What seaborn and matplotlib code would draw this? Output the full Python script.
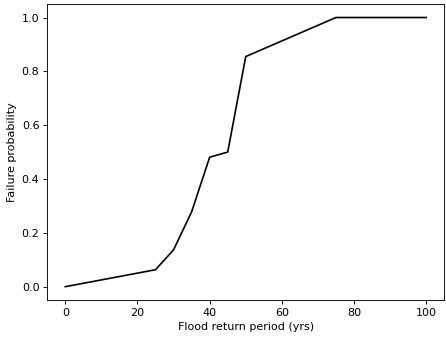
import matplotlib
matplotlib.use("Agg")
import matplotlib.pyplot as plt
import seaborn as sns
import pandas as pd

# Flood return period (years) vs. failure probability
return_period = [0, 25, 30, 35, 40, 45, 50, 75, 100]
failure_prob = [0.0, 0.063, 0.137, 0.278, 0.481, 0.5, 0.855, 1.0, 1.0]

df = pd.DataFrame({"period": return_period, "prob": failure_prob})

fig = plt.figure(figsize=(446 / 80, 338 / 80), dpi=80)
ax = fig.add_axes([0.106, 0.112, 0.89, 0.876])
sns.lineplot(data=df, x="period", y="prob", color="black", ax=ax,
             estimator=None, sort=False)
ax.set_xlabel("Flood return period (yrs)")
ax.set_ylabel("Failure probability")
ax.set_xticks([0, 20, 40, 60, 80, 100])
ax.set_yticks([0.0, 0.2, 0.4, 0.6, 0.8, 1.0])

fig.savefig("out.png", dpi=80)
